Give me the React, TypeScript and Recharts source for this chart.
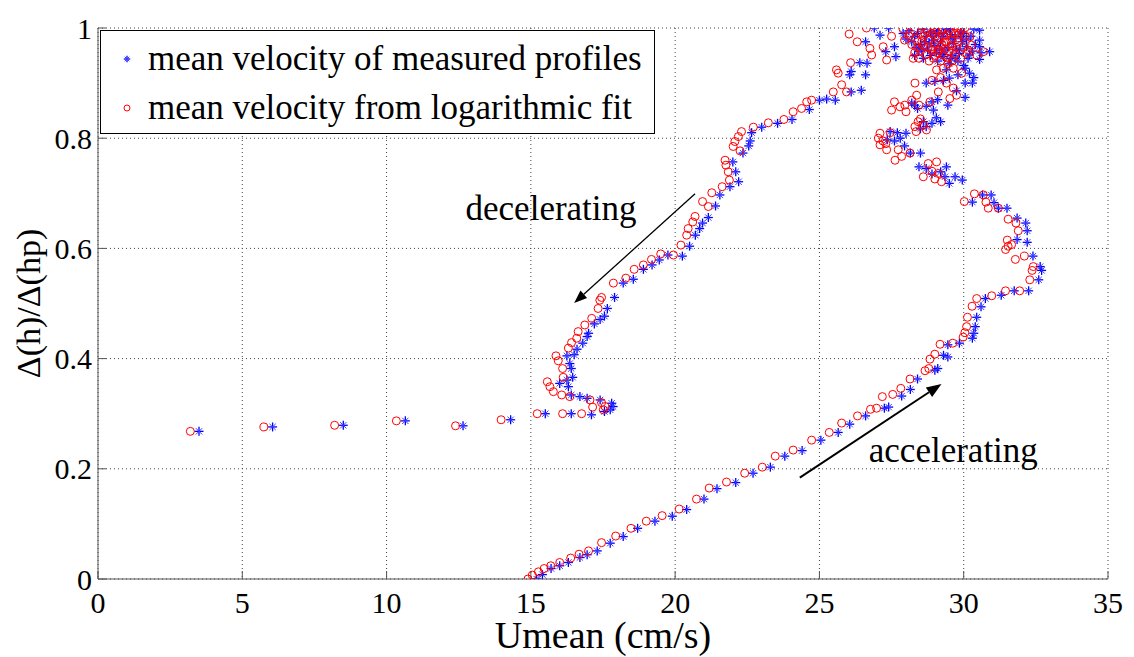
import React from 'react';
import { ScatterChart, Scatter, XAxis, YAxis, CartesianGrid, ReferenceLine, ReferenceDot, Legend } from 'recharts';

const FONT = '"Liberation Serif", "Times New Roman", Times, serif';

const xTicks = [0, 5, 10, 15, 20, 25, 30, 35];
const yTicks = [0, 0.2, 0.4, 0.6, 0.8, 1];

const seriesNames = ['mean velocity of measured profiles', 'mean velocity from logarithmic fit'];

// measured profiles, [Umean, dh/dhp]
const measuredRise: [number, number][] = [
  [15.2, 0.0], [15.4, 0.008], [15.7, 0.019], [16.0, 0.024], [16.3, 0.03], [16.7, 0.039], [16.95, 0.044],
  [17.3, 0.051], [17.75, 0.065], [18.2, 0.077], [18.7, 0.092], [19.3, 0.105], [19.9, 0.114], [20.4, 0.126],
  [21.0, 0.145], [21.45, 0.164], [22.1, 0.175], [22.7, 0.192], [23.3, 0.203], [23.8, 0.223], [24.4, 0.233],
  [25.05, 0.252], [25.65, 0.266], [26.05, 0.281], [26.6, 0.296], [27.25, 0.31], [27.4, 0.312], [27.85, 0.332],
  [28.15, 0.344], [28.4, 0.363], [29.0, 0.379], [29.1, 0.382], [29.45, 0.403], [29.3, 0.406], [29.45, 0.425],
  [29.85, 0.428], [30.3, 0.437], [30.35, 0.446], [30.4, 0.458], [30.45, 0.475], [30.6, 0.494], [30.75, 0.509],
  [31.3, 0.515], [31.75, 0.523], [32.25, 0.523], [32.6, 0.543], [32.7, 0.56], [32.65, 0.567], [32.4, 0.586],
  [32.2, 0.611], [31.85, 0.616], [32.2, 0.632], [32.15, 0.646], [31.85, 0.655], [31.5, 0.673], [31.2, 0.673],
  [31.05, 0.683], [30.95, 0.697], [30.65, 0.697], [30.3, 0.684],
];

const measuredTop: [number, number][] = [
  [29.95, 0.724], [29.5, 0.718], [29.35, 0.73], [29.2, 0.739], [29.4, 0.748], [28.9, 0.735], [28.45, 0.748],
  [29.7, 0.73], [28.7, 0.745],
  [28.15, 0.773], [28.5, 0.773], [27.95, 0.786], [27.8, 0.8], [27.45, 0.812], [27.35, 0.797], [28.0, 0.809],
  [27.6, 0.795], [27.7, 0.81], [28.6, 0.83], [28.5, 0.817], [29.2, 0.83],
  [28.7, 0.821], [28.9, 0.827], [29.05, 0.837], [28.95, 0.851], [28.7, 0.858], [28.4, 0.854], [28.2, 0.864],
  [28.3, 0.86], [29.1, 0.87],
  [28.9, 0.866], [29.45, 0.86], [30.05, 0.874], [29.75, 0.886], [30.05, 0.9], [30.35, 0.91], [30.2, 0.918],
  [29.5, 0.909], [29.4, 0.924], [29.0, 0.903], [28.7, 0.9], [30.05, 0.927], [30.55, 0.943], [30.9, 0.957],
  [29.3, 0.905], [29.8, 0.915], [30.3, 0.9],
  [30.55, 0.966], [30.55, 0.978], [30.55, 0.996],
  [28.1, 0.995], [28.4, 0.99], [28.6, 0.998], [28.9, 0.985], [29.1, 0.995], [29.3, 0.99], [29.5, 0.998],
  [29.7, 0.985], [29.9, 0.993], [30.1, 0.98], [30.35, 0.998], [28.2, 0.975], [28.5, 0.97], [28.8, 0.972],
  [29.0, 0.968], [29.2, 0.975], [29.45, 0.965], [29.65, 0.972], [29.85, 0.962], [30.1, 0.966], [30.3, 0.958],
  [30.2, 0.951], [29.85, 0.954], [29.6, 0.95], [29.3, 0.948], [29.05, 0.955], [28.75, 0.96], [28.45, 0.958],
  [28.3, 0.95], [29.1, 0.94], [29.5, 0.935], [29.8, 0.94], [30.0, 0.932], [29.25, 0.985], [28.7, 0.985],
  [29.6, 0.98], [30.0, 0.99], [28.95, 0.978], [29.35, 0.96], [28.6, 0.945], [30.25, 0.985],
  [28.3, 0.985], [28.55, 0.962], [28.85, 0.993], [29.15, 0.962], [29.4, 0.998], [29.55, 0.988], [29.75, 0.96],
  [29.95, 0.975], [30.15, 0.945], [30.4, 0.97], [28.65, 0.975], [29.05, 0.99], [29.7, 0.945], [30.6, 0.955],
  [28.35, 0.965], [29.25, 0.952], [29.9, 0.985], [28.0, 0.98], [28.85, 0.95], [29.55, 0.945],
];

const measuredFall: [number, number][] = [
  [27.9, 0.99], [27.4, 1.0], [26.9, 1.0], [27.1, 0.987], [26.6, 0.975], [27.6, 0.966], [27.65, 0.948],
  [27.3, 0.957], [26.65, 0.936], [26.4, 0.937], [26.6, 0.915], [26.1, 0.921], [26.05, 0.915], [26.45, 0.887],
  [26.1, 0.884], [25.55, 0.869], [25.25, 0.871], [25.0, 0.869], [24.65, 0.852], [24.05, 0.834], [23.55, 0.827],
  [23.0, 0.82], [22.65, 0.81], [22.6, 0.795], [22.55, 0.786], [22.35, 0.773], [22.0, 0.757], [22.1, 0.739],
  [22.2, 0.721], [21.9, 0.712], [21.55, 0.697], [21.4, 0.677], [21.15, 0.656], [20.95, 0.646], [20.85, 0.636],
  [20.7, 0.624], [20.5, 0.604], [20.25, 0.586], [19.75, 0.588], [19.45, 0.579], [19.2, 0.57], [18.9, 0.562],
  [18.55, 0.544], [18.2, 0.537], [17.9, 0.511], [17.65, 0.491], [17.55, 0.477], [17.4, 0.471], [17.2, 0.463],
  [17.0, 0.446], [16.95, 0.44], [16.8, 0.428], [16.6, 0.417], [16.5, 0.407], [16.25, 0.405], [16.35, 0.391],
  [16.4, 0.382], [16.45, 0.366], [16.25, 0.361], [16.0, 0.355], [16.3, 0.349], [16.4, 0.334], [16.7, 0.331],
  [16.95, 0.328], [17.4, 0.325], [17.8, 0.319], [17.85, 0.313], [17.75, 0.307], [17.55, 0.304], [17.1, 0.298],
  [16.4, 0.3], [15.5, 0.3], [14.3, 0.289], [12.65, 0.278], [10.65, 0.287], [8.5, 0.279], [6.05, 0.276], [3.5, 0.268],
];

// logarithmic fit
const fitRise: [number, number][] = [
  [14.9, 0.0], [15.05, 0.007], [15.26, 0.013], [15.46, 0.019], [15.69, 0.024], [16.0, 0.03], [16.38, 0.038],
  [16.67, 0.045], [17.0, 0.051], [17.45, 0.066], [17.94, 0.078], [18.47, 0.092], [19.0, 0.105], [19.55, 0.115],
  [20.14, 0.127], [20.74, 0.145], [21.18, 0.165], [21.78, 0.176], [22.41, 0.192], [23.02, 0.203], [23.47, 0.223],
  [24.09, 0.234], [24.73, 0.252], [25.34, 0.266], [25.77, 0.283], [26.32, 0.296], [26.77, 0.308], [26.98, 0.31],
  [27.18, 0.331], [27.54, 0.335], [27.82, 0.346], [28.14, 0.363], [28.66, 0.378], [28.79, 0.382], [28.83, 0.399],
  [29.0, 0.408], [29.18, 0.426], [29.62, 0.428], [29.98, 0.439], [30.04, 0.447], [30.1, 0.458], [30.13, 0.475],
  [30.29, 0.495], [30.45, 0.509], [30.97, 0.514], [31.45, 0.523], [31.94, 0.523], [32.29, 0.543], [32.37, 0.56],
  [32.41, 0.567], [32.1, 0.586], [31.79, 0.58], [31.45, 0.598], [31.54, 0.604], [31.66, 0.607], [31.51, 0.615],
  [31.89, 0.632], [31.81, 0.646], [31.54, 0.653], [31.2, 0.673], [30.85, 0.673], [30.77, 0.684], [30.68, 0.697],
  [30.37, 0.699], [30.02, 0.685],
];

const fitTop: [number, number][] = [
  [29.23, 0.721], [29.12, 0.736], [28.6, 0.73], [28.77, 0.754], [29.06, 0.757], [28.9, 0.74], [29.0, 0.726],
  [27.62, 0.76], [27.85, 0.767],
  [28.14, 0.773], [27.73, 0.779], [27.33, 0.779], [27.1, 0.788], [27.04, 0.8], [27.1, 0.809], [28.31, 0.821],
  [27.2, 0.795], [27.45, 0.81], [27.3, 0.79], [28.35, 0.812], [28.5, 0.835], [28.45, 0.86], [28.0, 0.848],
  [28.42, 0.83], [28.6, 0.824], [28.71, 0.815], [27.79, 0.857], [27.96, 0.86], [27.5, 0.851], [27.6, 0.866],
  [28.2, 0.869], [28.37, 0.878], [28.31, 0.9], [28.83, 0.866], [29.12, 0.884], [29.52, 0.872], [29.75, 0.878],
  [28.9, 0.905], [29.2, 0.91], [29.4, 0.9],
  [29.64, 0.891], [29.06, 0.924], [29.29, 0.927], [29.64, 0.927], [29.93, 0.918], [30.1, 0.954], [30.45, 0.951],
  [30.68, 0.957], [30.27, 0.969], [30.21, 0.984], [30.04, 1.0], [29.8, 1.0],
  [27.9, 0.998], [28.1, 0.985], [28.3, 0.995], [28.5, 0.99], [28.7, 0.998], [28.9, 0.99], [29.1, 0.997],
  [29.3, 0.985], [29.5, 0.995], [29.7, 0.99], [29.9, 0.998], [28.2, 0.97], [28.4, 0.975], [28.6, 0.968],
  [28.8, 0.978], [29.0, 0.972], [29.2, 0.965], [29.4, 0.975], [29.6, 0.968], [29.8, 0.975], [30.0, 0.965],
  [28.3, 0.955], [28.5, 0.958], [28.7, 0.952], [28.9, 0.96], [29.1, 0.955], [29.3, 0.95], [29.5, 0.958],
  [29.7, 0.952], [29.9, 0.945], [28.6, 0.985], [29.0, 0.985], [29.4, 0.988], [29.8, 0.982], [28.95, 0.945],
  [29.2, 0.94], [29.45, 0.935], [28.8, 0.94], [27.95, 0.978], [29.1, 0.978], [29.55, 0.978], [28.45, 0.945],
  [29.25, 0.995], [28.75, 0.965], [29.35, 0.962],
  [28.15, 0.99], [28.4, 0.965], [28.65, 0.99], [28.85, 0.965], [29.05, 0.993], [29.15, 0.96], [29.35, 0.975],
  [29.55, 0.99], [29.65, 0.96], [29.85, 0.99], [30.05, 0.985], [30.15, 0.96], [28.25, 0.945], [28.55, 0.975],
  [29.0, 0.95], [29.45, 0.945], [29.75, 0.965], [28.75, 0.995], [29.25, 0.97], [29.6, 0.94],
];

const fitFall: [number, number][] = [
  [26.63, 1.0], [26.03, 0.989], [26.31, 0.975], [26.75, 0.963], [26.81, 0.951], [27.33, 0.942], [27.21, 0.966],
  [27.5, 0.985], [26.08, 0.937], [25.59, 0.924], [25.65, 0.918], [25.77, 0.897], [25.94, 0.884], [25.48, 0.884],
  [24.73, 0.869], [24.56, 0.866], [24.38, 0.854], [24.09, 0.848], [23.77, 0.834], [23.23, 0.828], [22.71, 0.82],
  [22.3, 0.812], [22.19, 0.803], [22.07, 0.794], [22.01, 0.785], [22.25, 0.777], [21.73, 0.76], [21.76, 0.751],
  [21.84, 0.739], [21.88, 0.724], [21.63, 0.712], [21.27, 0.701], [20.95, 0.685], [21.15, 0.676], [20.69, 0.658],
  [20.61, 0.648], [20.45, 0.636], [20.4, 0.624], [20.2, 0.606], [19.94, 0.588], [19.5, 0.59], [19.18, 0.58],
  [18.9, 0.57], [18.58, 0.562], [18.29, 0.546], [17.86, 0.537], [17.45, 0.511], [17.39, 0.506], [17.33, 0.491],
  [17.11, 0.473], [16.87, 0.461], [16.64, 0.449], [16.59, 0.437], [16.41, 0.429], [16.3, 0.419], [15.87, 0.405],
  [15.95, 0.396], [16.1, 0.382], [16.12, 0.366], [15.57, 0.358], [15.66, 0.349], [15.78, 0.34], [16.07, 0.334],
  [16.35, 0.331], [17.05, 0.325], [17.45, 0.32], [17.57, 0.313], [17.51, 0.307], [17.14, 0.312], [16.76, 0.3],
  [16.1, 0.3], [15.22, 0.3], [13.97, 0.289], [12.39, 0.278], [10.34, 0.287], [8.2, 0.279], [5.75, 0.276], [3.2, 0.268],
];

const toPoints = (arr: [number, number][]) => arr.map(([u, h]) => ({ u, h }));
const measured = toPoints([...measuredRise, ...measuredTop, ...measuredFall]);
const fitted = toPoints([...fitRise, ...fitTop, ...fitFall]);

const serif = { fontFamily: FONT };

const StarMark = ({ cx, cy, a = 4.5 }: any) => {
  const d = a * 0.7;
  return (
    <g stroke="#0000ff" strokeWidth={1.3}>
      <line x1={cx - a} y1={cy} x2={cx + a} y2={cy} />
      <line x1={cx} y1={cy - a} x2={cx} y2={cy + a} />
      <line x1={cx - d} y1={cy - d} x2={cx + d} y2={cy + d} stroke="#3d3dff" strokeWidth={1} />
      <line x1={cx - d} y1={cy + d} x2={cx + d} y2={cy - d} stroke="#3d3dff" strokeWidth={1} />
    </g>
  );
};

const CircleMark = ({ cx, cy, r = 4 }: any) => (
  <circle cx={cx} cy={cy} r={r} fill="none" stroke="#ff0000" strokeWidth={1} />
);

const arrowShape = (width: number, head: number) => (p: any) => {
  const { x1, y1, x2, y2 } = p;
  const ang = Math.atan2(y2 - y1, x2 - x1);
  const hx = x2 - head * Math.cos(ang);
  const hy = y2 - head * Math.sin(ang);
  const ox = Math.sin(ang) * head * 0.38;
  const oy = -Math.cos(ang) * head * 0.38;
  return (
    <g>
      <line x1={x1} y1={y1} x2={hx} y2={hy} stroke="#000" strokeWidth={width} />
      <polygon points={`${x2},${y2} ${hx + ox},${hy + oy} ${hx - ox},${hy - oy}`} fill="#000" />
    </g>
  );
};

const XTick = ({ x, y, payload }: any) => (
  <text x={x} y={y} dy="0.71em" textAnchor="middle" fill="#000" fontSize={30} style={serif}>
    {payload.value}
  </text>
);

const YTick = ({ x, y, payload }: any) => (
  <text x={x} y={y} dy="0.355em" textAnchor="end" fill="#000" fontSize={30} style={serif}>
    {String(payload.value)}
  </text>
);

const XLabel = (p: any) => {
  const vb = p.viewBox || { x: 90, y: 571, width: 1010, height: 78 };
  return (
    <text x={vb.x + vb.width / 2} y={vb.y + vb.height - 9} textAnchor="middle" fill="#000" fontSize={38} style={serif}>
      Umean (cm/s)
    </text>
  );
};

const YLabel = (p: any) => {
  const vb = p.viewBox || { x: 0, y: 20, width: 90, height: 551 };
  const x = vb.x + 20;
  const y = vb.y + vb.height / 2;
  return (
    <text
      x={x}
      y={y}
      transform={`rotate(-90, ${x}, ${y})`}
      textAnchor="middle"
      dominantBaseline="central"
      fontSize={34}
      fill="#000"
      style={serif}
    >
      Δ(h)/Δ(hp)
    </text>
  );
};

const Annotation = (text: string) => (p: any) => {
  const vb = p.viewBox || { x: 0, y: 0, width: 0, height: 0 };
  return (
    <text
      x={vb.x + vb.width / 2}
      y={vb.y + vb.height / 2}
      textAnchor="middle"
      dominantBaseline="central"
      fontSize={35}
      fill="#000"
      style={serif}
    >
      {text}
    </text>
  );
};

const LegendBox = () => (
  <div
    style={{
      position: 'relative',
      width: 555,
      height: 104,
      boxSizing: 'border-box',
      border: '1px solid #000',
      background: '#fff',
      fontFamily: FONT,
      fontSize: 35,
      color: '#000',
      lineHeight: 1,
    }}
  >
    {seriesNames.map((name, i) => (
      <div key={name} style={{ position: 'absolute', left: 0, top: 6 + i * 49, height: 44, width: '100%' }}>
        <svg width={20} height={20} style={{ position: 'absolute', left: 16, top: 12 }}>
          {i === 0 ? <StarMark cx={10} cy={10} a={3.2} /> : <CircleMark cx={10} cy={10} r={3} />}
        </svg>
        <span style={{ position: 'absolute', left: 47, top: 4, whiteSpace: 'nowrap' }}>{name}</span>
      </div>
    ))}
  </div>
);

export default function App() {
  return (
    <div style={{ width: 1126, height: 649, fontFamily: FONT, background: '#fff' }}>
      <ScatterChart width={1126} height={649} margin={{ top: 20, right: 26, bottom: 0, left: 0 }} style={serif}>
        <CartesianGrid stroke="#444" strokeDasharray="1 3" />
        <XAxis
          type="number"
          dataKey="u"
          domain={[0, 35]}
          ticks={xTicks}
          allowDataOverflow
          height={78}
          tickSize={-8}
          tickMargin={21}
          stroke="#555"
          tick={<XTick />}
          label={<XLabel />}
        />
        <YAxis
          type="number"
          dataKey="h"
          domain={[0, 1]}
          ticks={yTicks}
          allowDataOverflow
          width={90}
          tickSize={-8}
          tickMargin={14}
          stroke="#555"
          tick={<YTick />}
          label={<YLabel />}
        />
        <XAxis
          xAxisId="top"
          orientation="top"
          type="number"
          domain={[0, 35]}
          ticks={xTicks}
          allowDataOverflow
          height={0}
          tickSize={-8}
          stroke="#333"
          tickFormatter={() => ''}
        />
        <YAxis
          yAxisId="right"
          orientation="right"
          type="number"
          domain={[0, 1]}
          ticks={yTicks}
          allowDataOverflow
          width={0}
          tickSize={-8}
          stroke="#333"
          tickFormatter={() => ''}
        />
        <Legend
          layout="vertical"
          align="center"
          verticalAlign="middle"
          wrapperStyle={{ left: 92, top: 22, width: 555, height: 104 }}
          content={() => <LegendBox />}
        />
        <Scatter name={seriesNames[0]} data={measured} shape={<StarMark />} isAnimationActive={false} />
        <Scatter name={seriesNames[1]} data={fitted} shape={<CircleMark />} isAnimationActive={false} />
        <ReferenceLine
          segment={[{ x: 20.69, y: 0.699 }, { x: 16.5, y: 0.501 }]}
          shape={arrowShape(1.3, 13)}
        />
        <ReferenceLine
          segment={[{ x: 24.32, y: 0.184 }, { x: 29.23, y: 0.354 }]}
          shape={arrowShape(2, 15)}
        />
        <ReferenceDot x={15.7} y={0.673} r={0} fill="none" stroke="none" label={{ content: Annotation('decelerating') }} />
        <ReferenceDot x={29.64} y={0.234} r={0} fill="none" stroke="none" label={{ content: Annotation('accelerating') }} />
      </ScatterChart>
    </div>
  );
}
